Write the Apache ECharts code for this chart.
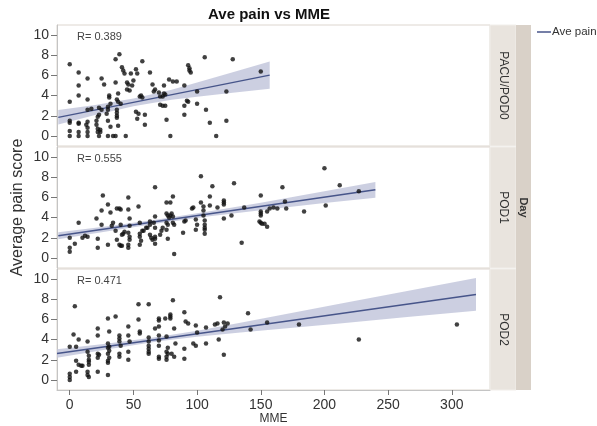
<!DOCTYPE html>
<html><head><meta charset="utf-8">
<script src="https://cdn.jsdelivr.net/npm/echarts@6/dist/echarts.min.js"></script>
<style>html,body{margin:0;padding:0;background:#fff}#c{width:597px;height:426px}</style>
</head><body><div id="c"></div>
<script>
const chartTitle = 'Ave pain vs MME';
const yTitle = 'Average pain score';
const xTitle = 'MME';
const facetTitle = 'Day';
const legendName = 'Ave pain';
const panelNames = ['PACU/POD0', 'POD1', 'POD2'];
const rLabels = ['R= 0.389', 'R= 0.555', 'R= 0.471'];
const xTicks = [0, 50, 100, 150, 200, 250, 300];
const yTicks = [0, 2, 4, 6, 8, 10];

// Panel PACU/POD0
const pacuMME = [0,0,0,0,0,0,7,7,7,7,7,7,7,14,14,14,14,13,14,14,14,17,21,21,22,22,25,27,23,25,23,22,24,24,23,30,30,29,31,31,32,30,32,30,36,38,36,34,36,39,41,42,43,37,38,40,37,37,37,37,38,44,45,46,45,47,48,50,49,52,53,52,54,57,56,55,57,53,59,59,63,66,65,67,70,71,73,74,74,75,71,73,75,76,79,78,81,84,90,90,90,93,94,94,95,92,93,100,100,106,107,110,115,123,123,128,150];
const pacuPain = [7.1,3.4,1.5,1.3,0.5,0,6.3,5.0,4.0,1.3,1.2,0.4,0,5.7,3.6,2.6,1.4,1.1,0.8,0.4,0,2.7,1.5,1.1,0.7,0.4,5.7,5.1,2.8,2.6,2.1,1.9,0.6,0.4,0,2.9,2.6,2.2,4.0,3.8,3.2,1.5,0.9,0,5.3,4.2,7.6,0,0,8.1,6.8,6.5,6.2,3.6,3.4,3.2,2.6,2.3,2.0,1.8,1.0,0,5.3,5.1,4.6,4.5,6.2,5.5,5.0,6.6,6.2,2.4,2.2,7.4,4.0,3.9,3.8,1.7,2.1,1.1,6.3,4.4,5.1,4.6,4.3,3.9,3.9,5.0,4.2,4.1,3.1,3.0,3.0,1.6,0,5.6,5.4,5.4,5.0,3.0,2.1,7.0,6.7,6.5,6.3,3.5,3.4,4.4,3.2,7.8,2.6,1.3,0,4.4,1.5,7.6,6.4];
const pacuFitX = [-9, 157];
const pacuFitY = [1.84, 6.03];
const pacuBandX = [-9, 20, 50, 80, 100, 128, 157];
const pacuBandLo = [1.12, 2.07, 2.95, 3.59, 3.89, 4.28, 4.68];
const pacuBandHi = [2.56, 3.07, 3.71, 4.59, 5.29, 6.32, 7.38];

// Panel POD1
const pod1MME = [0,0,0,4,7,10,12,14,21,22,22,25,25,26,30,30,32,33,34,37,39,40,36,37,39,40,41,41,42,43,40,46,46,47,47,46,47,47,46,46,54,55,57,55,55,55,56,58,60,63,63,63,64,65,61,67,67,67,67,67,67,66,71,72,73,76,79,76,77,78,79,80,81,76,77,76,77,81,81,82,82,89,90,91,96,97,99,100,99,103,105,103,105,105,106,106,106,106,106,110,110,112,116,121,121,121,121,127,129,135,137,150,150,150,150,149,150,151,153,155,155,157,160,163,167,169,170,184,200,201,212,227];
const pod1Pain = [2.0,1.0,0.6,1.4,3.5,2.0,2.2,2.1,3.9,1.9,1.0,4.7,3.3,6.2,5.3,1.3,4.5,3.2,3.5,4.9,4.9,4.8,2.7,1.8,1.3,1.2,1.2,2.3,2.4,2.6,3.3,6.0,4.8,3.9,3.2,2.5,2.1,1.8,1.3,1.0,5.1,3.5,2.7,2.4,2.1,1.3,1.7,2.7,3.0,3.6,3.3,2.3,2.0,1.8,3.0,7.0,4.1,3.0,2.1,1.9,1.4,3.5,2.3,2.7,3.0,5.5,5.5,4.4,4.2,4.0,4.2,4.4,4.1,3.5,3.3,2.8,1.9,6.1,3.5,3.3,0.4,2.5,3.6,3.7,4.9,5.0,3.8,3.3,2.8,5.5,5.1,8.1,4.7,4.2,3.7,3.3,3.0,2.8,2.4,6.1,5.2,7.1,5.0,5.7,5.5,5.3,3.9,4.2,7.4,1.5,5.0,6.2,4.6,4.4,4.2,3.6,3.5,3.4,3.4,3.1,4.6,4.9,5.0,4.9,7.0,5.6,4.9,4.6,8.9,5.2,7.2,6.6];
const pod1FitX = [-9, 240];
const pod1FitY = [2.19, 6.75];
const pod1BandX = [-9, 30, 70, 110, 150, 200, 240];
const pod1BandLo = [1.84, 2.65, 3.43, 4.12, 4.72, 5.44, 5.97];
const pod1BandHi = [2.54, 3.15, 3.83, 4.62, 5.48, 6.60, 7.53];

// Panel POD2
const pod2MME = [0,0,0,0,4,3,5,5,7,5,7,9,10,14,14,15,15,15,15,14,14,15,22,22,22,23,22,22,30,31,30,31,30,31,30,31,30,30,30,36,39,39,39,40,39,39,46,46,47,46,46,54,54,55,55,62,62,62,62,62,62,62,67,70,70,70,70,70,70,70,70,75,79,79,79,76,77,76,77,76,76,80,82,81,82,83,90,91,93,90,90,99,100,99,97,107,107,114,116,117,120,118,121,122,124,121,140,142,155,180,227,304];
const pod2Pain = [3.3,0.6,0.3,0,7.3,4.5,3.3,0.8,4.0,1.9,1.5,1.4,1.4,3.8,2.8,2.4,2.0,1.8,1.5,0.8,0.5,0.3,5.1,4.4,2.6,2.5,2.2,0.8,6.1,4.8,3.6,3.3,3.2,2.9,2.6,2.2,1.9,1.7,0.5,6.3,4.4,4.1,3.8,3.4,2.6,2.3,5.3,4.4,3.8,2.8,2.0,7.5,6.0,4.8,4.6,7.5,4.2,3.8,3.4,3.1,2.8,2.6,5.1,5.3,5.9,6.1,3.4,2.3,2.1,3.9,4.4,6.1,6.1,6.5,6.3,4.3,3.2,2.8,2.6,2.3,2.0,2.6,2.3,7.9,5.1,3.6,6.7,5.8,5.6,3.1,2.1,5.4,4.7,3.4,3.6,5.2,3.6,5.5,5.6,4.0,5.0,8.2,5.7,5.3,5.6,2.5,6.6,5.0,5.7,5.5,4.0,5.5];
const pod2FitX = [-10, 319];
const pod2FitY = [2.62, 8.48];
const pod2BandX = [-10, 30, 70, 100, 134, 212, 265, 319];
const pod2BandLo = [2.20, 3.05, 3.83, 4.28, 4.71, 5.59, 6.23, 6.85];
const pod2BandHi = [3.04, 3.61, 4.27, 4.88, 5.67, 7.55, 8.81, 10.11];

const panels = [
  {x: pacuMME, y: pacuPain, fx: pacuFitX, fy: pacuFitY, bx: pacuBandX, lo: pacuBandLo, hi: pacuBandHi},
  {x: pod1MME, y: pod1Pain, fx: pod1FitX, fy: pod1FitY, bx: pod1BandX, lo: pod1BandLo, hi: pod1BandHi},
  {x: pod2MME, y: pod2Pain, fx: pod2FitX, fy: pod2FitY, bx: pod2BandX, lo: pod2BandLo, hi: pod2BandHi}
];

const gridLeft = 57, gridWidth = 433, gridHeight = 121;
const gridTops = [25, 147, 269];
const FONT = '"Liberation Sans", Arial, Helvetica, sans-serif';
const lineColor = '#47558a';
const bandColor = '#c3c7dc';

const grids = [], xAxes = [], yAxes = [], series = [], graphics = [];
panels.forEach((p, i) => {
  const last = i === panels.length - 1;
  grids.push({left: gridLeft, top: gridTops[i], width: gridWidth, height: gridHeight,
    show: true, borderColor: '#ddd6cf', borderWidth: 1, backgroundColor: '#fff'});
  xAxes.push({type: 'value', gridIndex: i, min: -10, max: 330,
    axisLine: {show: last, onZero: false, lineStyle: {color: '#c4c4c4'}},
    axisTick: {show: last, customValues: xTicks, length: 5, lineStyle: {color: '#777'}},
    axisLabel: {show: last, customValues: xTicks, fontSize: 14, color: '#333', margin: 8, fontFamily: FONT},
    splitLine: {show: false},
    name: last ? xTitle : '', nameLocation: 'middle', nameGap: 23,
    nameTextStyle: {fontSize: 12, color: '#333', fontFamily: FONT}});
  yAxes.push({type: 'value', gridIndex: i, min: -1, max: 11,
    axisLine: {show: true, onZero: false, lineStyle: {color: '#c4c4c4'}},
    axisTick: {show: true, customValues: yTicks, length: 6, lineStyle: {color: '#777'}},
    axisLabel: {customValues: yTicks, fontSize: 14, color: '#333', margin: 8, fontFamily: FONT},
    splitLine: {show: false}});
  series.push({type: 'custom', xAxisIndex: i, yAxisIndex: i, silent: true, z: 1,
    data: [[p.bx[0], p.lo[0]]],
    renderItem: function (params, api) {
      const pts = [];
      for (let k = 0; k < p.bx.length; k++) pts.push(api.coord([p.bx[k], p.hi[k]]));
      for (let k = p.bx.length - 1; k >= 0; k--) pts.push(api.coord([p.bx[k], p.lo[k]]));
      return {type: 'polygon', shape: {points: pts}, style: {fill: bandColor, opacity: 0.85}};
    }});
  series.push({type: 'line', name: legendName, xAxisIndex: i, yAxisIndex: i, z: 2,
    data: p.fx.map((v, k) => [v, p.fy[k]]), symbol: 'none', silent: true,
    lineStyle: {color: lineColor, width: 1.5}});
  series.push({type: 'scatter', xAxisIndex: i, yAxisIndex: i, z: 3, silent: true,
    data: p.x.map((v, k) => [v, p.y[k]]), symbolSize: 4.5,
    itemStyle: {color: '#111'}});
  graphics.push({type: 'text', left: 77, top: gridTops[i] + 6,
    style: {text: rLabels[i], fontSize: 11, fill: '#444', fontFamily: FONT}});
  graphics.push({type: 'rect', shape: {x: 490, y: gridTops[i], width: 26, height: gridHeight},
    style: {fill: '#e9e4de', stroke: '#f1eeea', lineWidth: 1}});
  graphics.push({type: 'text', x: 503, y: gridTops[i] + gridHeight / 2, rotation: -Math.PI / 2,
    style: {text: panelNames[i], fontSize: 12, fill: '#333', fontFamily: FONT, align: 'center', verticalAlign: 'middle'}});
});

graphics.push({type: 'rect', shape: {x: 516, y: gridTops[0], width: 15, height: gridTops[2] + gridHeight - gridTops[0]},
  style: {fill: '#d9d1c8'}});
graphics.push({type: 'text', x: 523.5, y: (gridTops[0] + gridTops[2] + gridHeight) / 2, rotation: -Math.PI / 2,
  style: {text: facetTitle, fontSize: 11, fontWeight: 'bold', fill: '#333', fontFamily: FONT, align: 'center', verticalAlign: 'middle'}});
graphics.push({type: 'text', x: 18, y: (gridTops[0] + gridTops[2] + gridHeight) / 2, rotation: Math.PI / 2,
  style: {text: yTitle, fontSize: 16, fill: '#333', fontFamily: FONT, align: 'center', verticalAlign: 'middle'}});
graphics.push({type: 'text', x: 269, y: 15,
  style: {text: chartTitle, fontSize: 15, fontWeight: 'bold', fill: '#111', fontFamily: FONT, align: 'center', verticalAlign: 'middle'}});
graphics.push({type: 'line', shape: {x1: 537, y1: 32, x2: 551, y2: 32}, style: {stroke: lineColor, lineWidth: 1.5}});
graphics.push({type: 'text', x: 552, y: 32,
  style: {text: legendName, fontSize: 11.5, fill: '#333', fontFamily: FONT, verticalAlign: 'middle'}});

const chart = echarts.init(document.getElementById('c'), null, {renderer: 'canvas'});
chart.setOption({
  animation: false,
  backgroundColor: '#fff',
  grid: grids, xAxis: xAxes, yAxis: yAxes, series: series, graphic: graphics
});
</script></body></html>
